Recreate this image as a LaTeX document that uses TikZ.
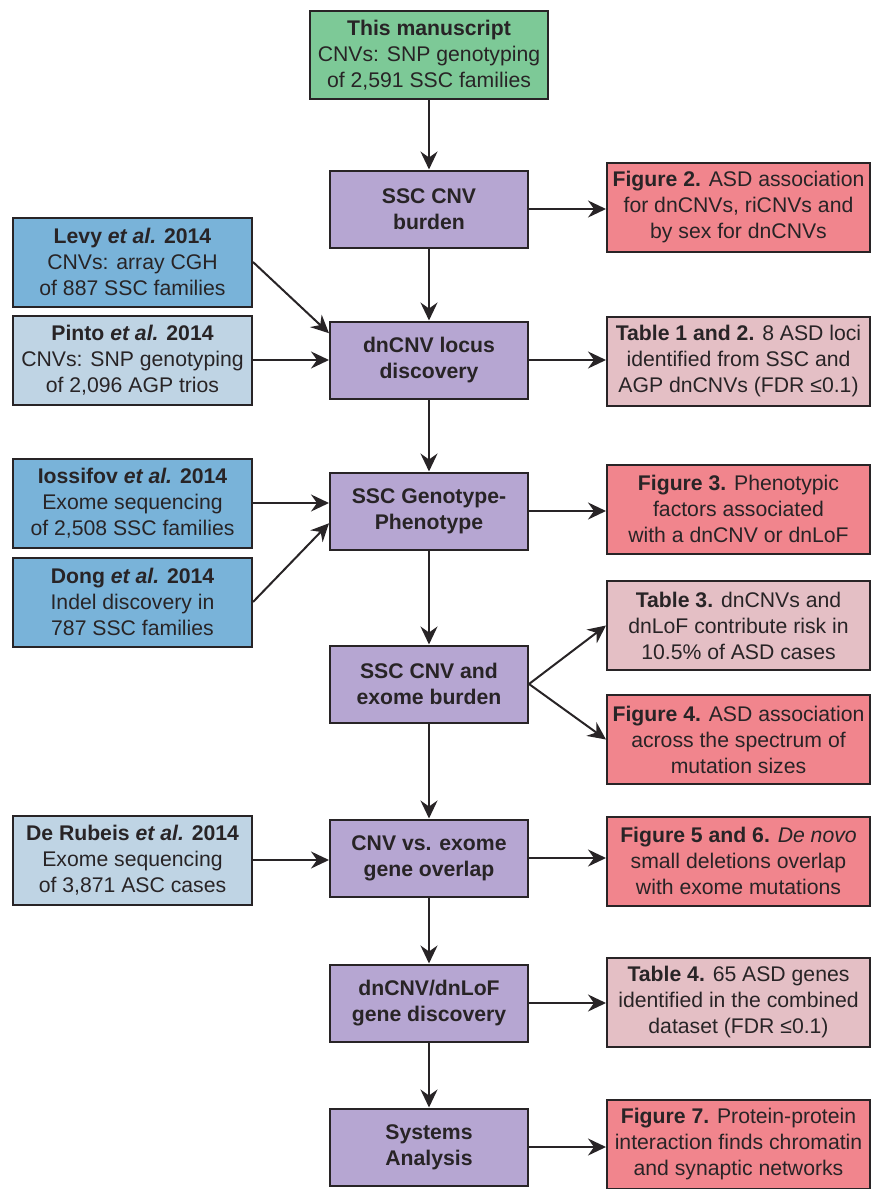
\documentclass[tikz,border=0pt]{standalone}
\usepackage{fontspec}
\setmainfont{Liberation Sans}
\usepackage{tikz}
\usetikzlibrary{arrows.meta}

\definecolor{linegray}{RGB}{40,36,38}
\definecolor{mangreen}{RGB}{125,201,151}
\definecolor{stepviolet}{RGB}{182,166,210}
\definecolor{srcblue}{RGB}{121,179,217}
\definecolor{srclight}{RGB}{191,212,228}
\definecolor{resred}{RGB}{241,133,141}
\definecolor{respink}{RGB}{228,191,197}

\tikzset{
	box/.style={draw=linegray, line width=1pt, inner sep=0pt, align=center,
		font=\fontsize{10.6}{13}\selectfont, text=linegray},
	stepbox/.style={box, fill=stepviolet, minimum width=99pt, minimum height=38.5pt, font=\fontsize{10.6}{13}\selectfont\bfseries},
	srcbox/.style={box, minimum width=119.5pt, minimum height=44.5pt},
	resbox/.style={box, minimum width=131.5pt, minimum height=44.5pt},
	flow/.style={draw=linegray, line width=1pt, -{Stealth[length=9pt, width=8.5pt, inset=3pt]}}
}

\begin{document}
\begin{tikzpicture}[x=0.5pt, y=-0.5pt]
					\useasboundingbox (0,0) rectangle (871,1189);
					\node[box, fill=mangreen, minimum width=119pt, minimum height=44pt] (ms) at (429,55) {\textbf{This manuscript}\\CNVs: SNP genotyping\\of 2,591 SSC families};

					\node[stepbox] (burden) at (429,209) {SSC CNV\\burden};
					\node[stepbox] (locus) at (429,360) {dnCNV locus\\discovery};
					\node[stepbox] (genoph) at (429,511) {SSC Genotype-\\Phenotype};
					\node[stepbox] (exburden) at (429,684) {SSC CNV and\\exome burden};
					\node[stepbox] (overlap) at (429,858) {CNV vs. exome\\gene overlap};
					\node[stepbox] (genedisc) at (429,1003) {dnCNV/dnLoF\\gene discovery};
					\node[stepbox] (systems) at (429,1147) {Systems\\Analysis};

					\node[srcbox, fill=srcblue] (levy) at (132.5,262) {\textbf{Levy \textit{et al.} 2014}\\CNVs: array CGH\\of 887 SSC families};
					\node[srcbox, fill=srclight] (pinto) at (132.5,360) {\textbf{Pinto \textit{et al.} 2014}\\CNVs: SNP genotyping\\of 2,096 AGP trios};
					\node[srcbox, fill=srcblue] (iossifov) at (132.5,503) {\textbf{Iossifov \textit{et al.} 2014}\\Exome sequencing\\of 2,508 SSC families};
					\node[srcbox, fill=srcblue] (dong) at (132.5,602) {\textbf{Dong \textit{et al.} 2014}\\Indel discovery in\\787 SSC families};
					\node[srcbox, fill=srclight] (derubeis) at (132.5,860) {\textbf{De Rubeis \textit{et al.} 2014}\\Exome sequencing\\of 3,871 ASC cases};

					\node[resbox, fill=resred] (fig2) at (738.5,207.5) {\textbf{Figure 2.} ASD association\\for dnCNVs, riCNVs and\\by sex for dnCNVs};
					\node[resbox, fill=respink] (tab12) at (738.5,361) {\textbf{Table 1 and 2.} 8 ASD loci\\identified from SSC and\\AGP dnCNVs (FDR ≤0.1)};
					\node[resbox, fill=resred] (fig3) at (738.5,509) {\textbf{Figure 3.} Phenotypic\\factors associated\\with a dnCNV or dnLoF};
					\node[resbox, fill=respink] (tab3) at (738.5,625.5) {\textbf{Table 3.} dnCNVs and\\dnLoF contribute risk in\\10.5\% of ASD cases};
					\node[resbox, fill=resred] (fig4) at (738.5,739.5) {\textbf{Figure 4.} ASD association\\across the spectrum of\\mutation sizes};
					\node[resbox, fill=resred] (fig56) at (738.5,861) {\textbf{Figure 5 and 6.} \textit{De novo}\\small deletions overlap\\with exome mutations};
					\node[resbox, fill=respink] (tab4) at (738.5,1002) {\textbf{Table 4.} 65 ASD genes\\identified in the combined\\dataset (FDR ≤0.1)};
					\node[resbox, fill=resred] (fig7) at (738.5,1144) {\textbf{Figure 7.} Protein-protein\\interaction finds chromatin\\and synaptic networks};

					\draw[flow] (ms) -- (burden);
					\draw[flow] (burden) -- (locus);
					\draw[flow] (locus) -- (genoph);
					\draw[flow] (genoph) -- (exburden);
					\draw[flow] (exburden) -- (overlap);
					\draw[flow] (overlap) -- (genedisc);
					\draw[flow] (genedisc) -- (systems);

					\draw[flow] (levy.east) -- (locus.165);
					\draw[flow] (pinto.east) -- (locus.west);
					\draw[flow] (iossifov.east) -- (genoph.west |- iossifov.east);
					\draw[flow] (dong.east) -- (genoph.187);
					\draw[flow] (derubeis.east) -- (overlap.west |- derubeis.east);

					\draw[flow] (burden.east) -- (fig2.west |- burden.east);
					\draw[flow] (locus.east) -- (tab12.west |- locus.east);
					\draw[flow] (genoph.east) -- (fig3.west |- genoph.east);
					\draw[flow] (exburden.east) -- (tab3.west);
					\draw[flow] (exburden.east) -- (fig4.west);
					\draw[flow] (overlap.east) -- (fig56.west |- overlap.east);
					\draw[flow] (genedisc.east) -- (tab4.west |- genedisc.east);
					\draw[flow] (systems.east) -- (fig7.west |- systems.east);
				\end{tikzpicture}
\end{document}
